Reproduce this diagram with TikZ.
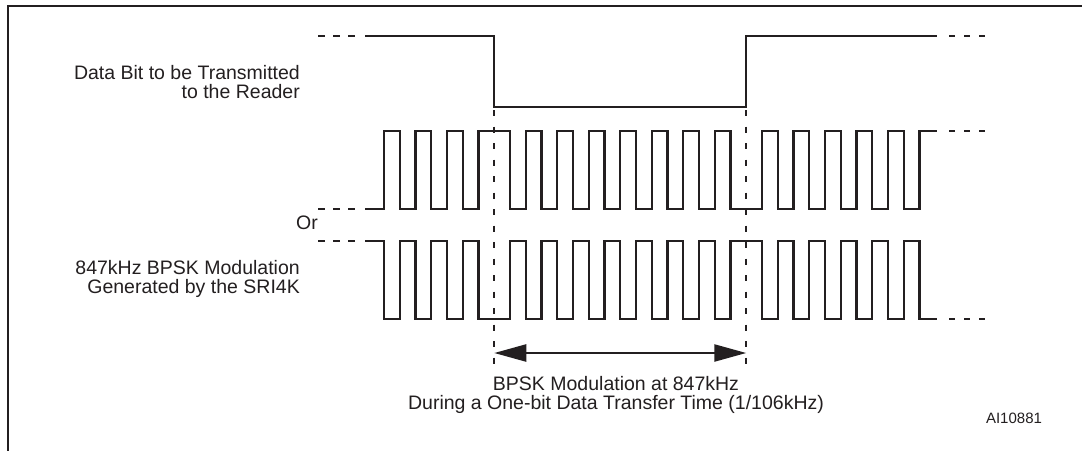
\documentclass[tikz,border=0pt]{standalone}
\usepackage{fontspec}
\setmainfont{Liberation Sans}
\usetikzlibrary{arrows.meta}
\definecolor{ink}{HTML}{231F20}
\begin{document}
\begin{tikzpicture}[x=1pt,y=-1pt,
  frameline/.style={draw=ink,line width=2.6pt},
  sig/.style={draw=ink,line width=2.2pt,line join=miter},
  extl/.style={draw=ink,line width=2.2pt,dash pattern=on 7pt off 8pt},
  extr/.style={draw=ink,line width=2.2pt,dash pattern=on 6pt off 9pt},
  bitmark/.style={draw=ink,line width=2pt,dash pattern=on 6pt off 10.5pt},
  lbl/.style={text=ink,inner sep=0pt,font=\fontsize{19.5}{19}\selectfont},
  smalllbl/.style={text=ink,inner sep=0pt,font=\fontsize{15}{18}\selectfont},
  span/.style={draw=ink,line width=2.4pt,{Triangle[length=32pt,width=17pt]}-{Triangle[length=32pt,width=17pt]}}
]
\useasboundingbox (0,0) rectangle (1082,450);
\fill[white] (0,0) rectangle (1082,450);
% frame
\draw[frameline] (8,452) -- (8,6) -- (1084,6);
% data bit
\draw[sig] (365,36) -- (494.25,36) -- (494.25,107) -- (746.25,107) -- (746.25,36) -- (937,36);
\draw[extl] (318,36) -- (360,36);
\draw[extr] (949,36) -- (985,36);
% upper BPSK wave
\draw[sig] (365,209)
  foreach \n/\v in {0/131,1/209,2/131,3/209,4/131,5/209,6/131,8/209,9/131,10/209,11/131,12/209,13/131,14/209,15/131,16/209,17/131,18/209,19/131,20/209,21/131,22/209,24/131,25/209,26/131,27/209,28/131,29/209,30/131,31/209,32/131,33/209,34/131}
  { -| ({384+\n*15.75},\v) } -- (937,131);
\draw[extl] (318,209) -- (360,209);
\draw[extr] (949,131) -- (985,131);
% lower BPSK wave (inverted)
\draw[sig] (365,241)
  foreach \n/\v in {0/131,1/209,2/131,3/209,4/131,5/209,6/131,8/209,9/131,10/209,11/131,12/209,13/131,14/209,15/131,16/209,17/131,18/209,19/131,20/209,21/131,22/209,24/131,25/209,26/131,27/209,28/131,29/209,30/131,31/209,32/131,33/209,34/131}
  { -| ({384+\n*15.75},{450-\v}) } -- (937,319);
\draw[extl] (318,241) -- (360,241);
\draw[extr] (949,319) -- (985,319);
% bit boundaries
\coordinate (bt1) at (494.25,110);
\coordinate (bb1) at (494.25,367);
\coordinate (bt2) at (746.25,110);
\coordinate (bb2) at (746.25,367);
\draw[bitmark] (bt1) -- (bb1);
\draw[bitmark] (bt2) -- (bb2);
\coordinate (al) at (494.25,353);
\coordinate (ar) at (746.25,353);
\draw[span] (al) -- (ar);
% labels
\node[lbl,anchor=east,align=right] (databit) at (300,82) {Data Bit to be Transmitted\\to the Reader};
\node[lbl,anchor=east] (or) at (318,223) {Or};
\node[lbl,anchor=east,align=right] (bpsk) at (300,279) {847kHz BPSK Modulation\\Generated by the SRI4K};
\node[lbl,align=center] (cap) at (616,395) {BPSK Modulation at 847kHz\\During a One-bit Data Transfer Time (1/106kHz)};
\node[smalllbl] (id) at (1014,418) {AI10881};
\end{tikzpicture}
\end{document}
